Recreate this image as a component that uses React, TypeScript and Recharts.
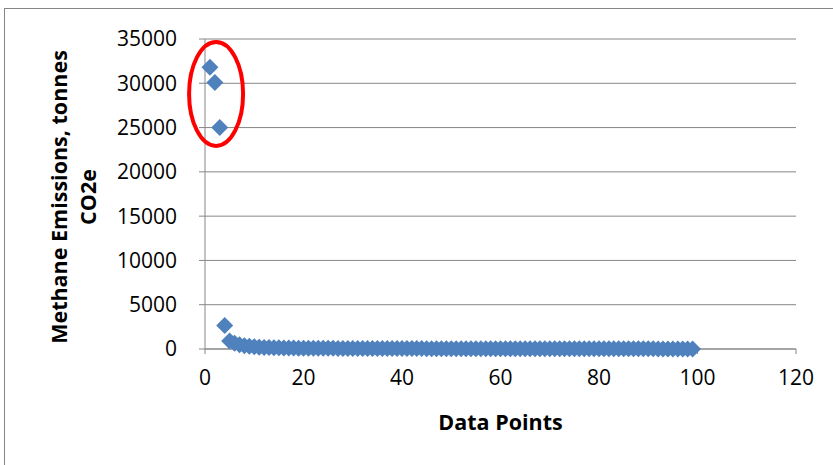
import { ScatterChart, Scatter, XAxis, YAxis, CartesianGrid, ReferenceDot } from "recharts"

// methane emissions (tonnes CO2e) for data points 1..99
const emissions = [
  31800, 30100, 25000, 2650, 900, 650, 480, 380, 300, 250,
  210, 180, 160, 145, 130, 120, 112, 105, 98, 92,
  88, 84, 80, 77, 74, 71, 68, 66, 64, 62,
  60, 58, 56, 55, 53, 52, 50, 49, 48, 47,
  46, 45, 44, 43, 42, 41, 40, 39, 38, 38,
  37, 36, 35, 35, 34, 33, 33, 32, 31, 31,
  30, 30, 29, 28, 28, 27, 27, 26, 26, 25,
  25, 24, 24, 23, 23, 22, 22, 21, 21, 20,
  20, 19, 19, 18, 18, 17, 17, 16, 16, 15,
  15, 14, 14, 13, 13, 12, 12, 11, 10,
]
const xTicks = [0, 20, 40, 60, 80, 100, 120]
const yTicks = [0, 5000, 10000, 15000, 20000, 25000, 30000, 35000]

const data = emissions.map((v, i) => ({ x: i + 1, y: v }))

const FONT = "'Open Sans', sans-serif"
const GRAY = "#868686"

const Diamond = (props: any) => {
  const { cx, cy } = props
  const r = 8.5
  return (
    <polygon
      points={`${cx},${cy - r} ${cx + r},${cy} ${cx},${cy + r} ${cx - r},${cy}`}
      fill="#4F81BD"
    />
  )
}

const Ellipse = (props: any) => (
  <ellipse cx={props.cx} cy={props.cy} rx={27} ry={52} fill="none" stroke="#FF0000" strokeWidth={4} />
)

const YLabel = () => (
  <text
    transform="translate(67,197) rotate(-90)"
    textAnchor="middle"
    fontFamily={FONT}
    fontWeight="bold"
    fontSize={21.5}
    fill="#000"
  >
    <tspan x={0} dy={0}>Methane Emissions, tonnes</tspan>
    <tspan x={0} dy={29}>CO2e</tspan>
  </text>
)

export default function App() {
  return (
    <div style={{ position: "absolute", left: 0, top: 0, width: 833, height: 465, overflow: "hidden", background: "#fff" }}>
      <div
        style={{
          position: "absolute",
          left: 4,
          top: 8,
          width: 900,
          height: 500,
          borderLeft: `1px solid ${GRAY}`,
          borderTop: `1px solid ${GRAY}`,
        }}
      />
      <div style={{ position: "absolute", left: 0, top: 0 }}>
        <ScatterChart width={833} height={465} margin={{ top: 39, right: 37, bottom: 0, left: 0 }}>
          <CartesianGrid vertical={false} stroke={GRAY} strokeWidth={1} />
          <XAxis
            type="number"
            dataKey="x"
            domain={[0, 120]}
            ticks={xTicks}
            height={116}
            axisLine={{ stroke: GRAY }}
            tickLine={{ stroke: GRAY }}
            tickSize={5}
            tickMargin={16}
            tick={{ fill: "#000", fontFamily: FONT, fontSize: 21 }}
            label={{
              value: "Data Points",
              position: "insideTop",
              offset: 66,
              fill: "#000",
              fontFamily: FONT,
              fontWeight: "bold",
              fontSize: 21.5,
            }}
          />
          <YAxis
            type="number"
            dataKey="y"
            domain={[0, 35000]}
            ticks={yTicks}
            width={205}
            axisLine={{ stroke: GRAY }}
            tickLine={{ stroke: GRAY }}
            tickSize={6}
            tickMargin={22}
            tick={{ fill: "#000", fontFamily: FONT, fontSize: 21 }}
            label={<YLabel />}
          />
          <Scatter data={data} shape={<Diamond />} isAnimationActive={false} />
          <ReferenceDot x={2.25} y={28800} shape={<Ellipse />} ifOverflow="visible" />
        </ScatterChart>
      </div>
    </div>
  )
}
